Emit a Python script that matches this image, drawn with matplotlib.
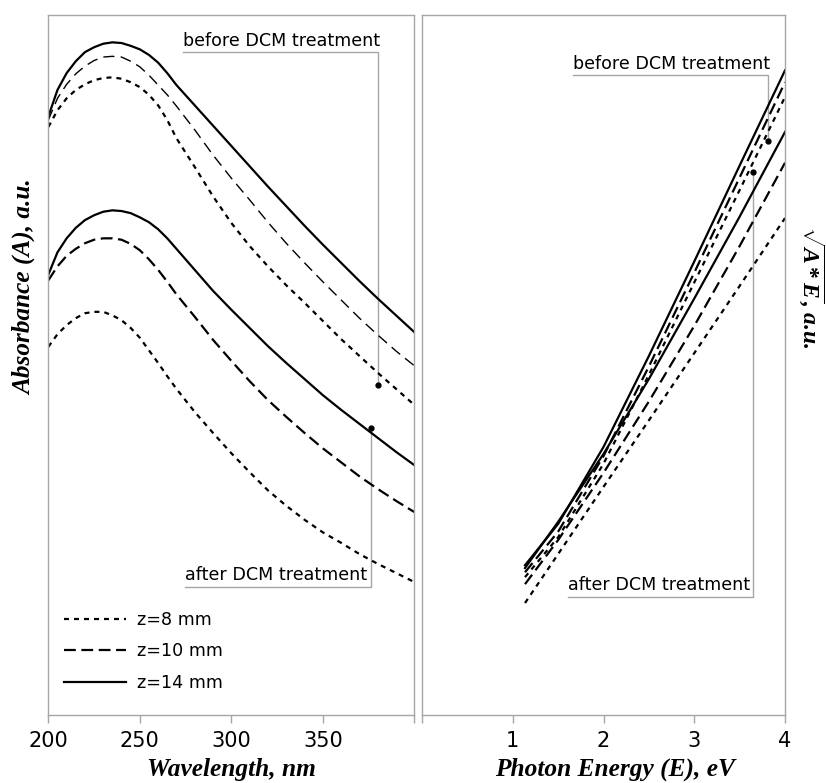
import matplotlib
matplotlib.use("Agg")
import matplotlib.pyplot as plt
from matplotlib.lines import Line2D

plt.rcParams['lines.scale_dashes'] = False
plt.rcParams['mathtext.fontset'] = 'custom'
plt.rcParams['mathtext.rm'] = 'Liberation Serif:bold'
plt.rcParams['mathtext.it'] = 'Liberation Serif:bold:italic'

# ---------------- data: left panel (absorbance vs wavelength) ----------------
wavelength = [200, 205, 210, 215, 220, 225, 230, 235, 240, 245, 250, 255, 260, 265,
              270, 280, 290, 300, 310, 320, 330, 340, 350, 360, 370, 380, 390, 400]
before_z14 = [85.5, 89.3, 91.7, 93.4, 94.7, 95.4, 95.9, 96.1, 96.0, 95.6, 95.1, 94.3, 93.2, 91.7,
              90.0, 87.1, 84.2, 81.3, 78.4, 75.5, 72.7, 69.9, 67.2, 64.6, 62.0, 59.5, 57.1, 54.7]
before_z10 = [85.0, 88.1, 90.1, 91.6, 92.7, 93.5, 94.0, 94.1, 94.0, 93.4, 92.6, 91.4, 90.0, 88.6,
              87.0, 83.6, 80.0, 76.7, 73.6, 70.4, 67.4, 64.6, 61.9, 59.3, 56.7, 54.3, 52.0, 49.9]
before_z8 = [84.0, 86.4, 88.1, 89.3, 90.1, 90.7, 91.0, 91.1, 90.9, 90.4, 89.7, 88.6, 87.1, 85.0,
             82.4, 78.3, 74.1, 70.3, 67.0, 64.1, 61.4, 58.9, 56.3, 53.7, 51.3, 48.9, 46.6, 44.3]
after_z14 = [62.9, 66.1, 68.1, 69.6, 70.7, 71.4, 71.9, 72.1, 72.0, 71.7, 71.1, 70.4, 69.4, 68.1,
             66.6, 63.6, 60.6, 57.9, 55.3, 52.7, 50.3, 48.0, 45.7, 43.6, 41.6, 39.6, 37.6, 35.7]
after_z10 = [62.1, 64.1, 65.6, 66.6, 67.4, 67.9, 68.1, 68.1, 67.9, 67.3, 66.4, 65.1, 63.6, 61.9,
             60.1, 56.9, 53.6, 50.6, 47.7, 45.0, 42.6, 40.3, 38.1, 36.1, 34.1, 32.3, 30.6, 29.0]
after_z8 = [52.6, 54.4, 55.7, 56.7, 57.4, 57.6, 57.6, 57.1, 56.4, 55.3, 53.9, 52.1, 50.3, 48.4,
            46.6, 43.3, 40.3, 37.4, 34.7, 32.1, 29.9, 27.9, 26.1, 24.6, 23.0, 21.6, 20.3, 19.0]

# ---------------- data: right panel (sqrt(A*E) vs photon energy) ----------------
energy = [1.135, 1.5, 2.0, 2.5, 3.0, 3.5, 4.0]
tauc_before_z14 = [21.4, 27.3, 38.3, 51.3, 64.8, 78.5, 92.1]
tauc_before_z10 = [20.4, 26.2, 37.0, 49.8, 63.2, 76.8, 90.4]
tauc_before_z8 = [19.7, 25.4, 35.9, 48.6, 61.8, 75.0, 88.3]
tauc_after_z14 = [21.0, 27.6, 37.3, 48.0, 59.5, 71.2, 83.3]
tauc_after_z10 = [18.7, 25.0, 34.6, 44.8, 55.6, 67.0, 78.9]
tauc_after_z8 = [16.0, 23.0, 32.6, 42.1, 51.7, 61.3, 71.0]

legend_labels = ["z=8 mm", "z=10 mm", "z=14 mm"]
left_ticks = [200, 250, 300, 350, 400]
left_ticklabels = ["200", "250", "300", "350", ""]
right_ticks = [0, 1, 2, 3, 4]
right_ticklabels = ["", "1", "2", "3", "4"]

# annotation callouts: (text, text/underline start x, underline y, corner x, dot y)
left_callouts = [("before DCM treatment", 273.7, 94.7, 380.2, 47.1),
                 ("after DCM treatment", 274.6, 18.3, 376.3, 41.0)]
right_callouts = [("before DCM treatment", 1.66, 91.4, 3.81, 82.0),
                  ("after DCM treatment", 1.605, 16.9, 3.645, 77.6)]

# ---------------- styles ----------------
SHORT = (0, (3.6, 3.6))
LONG = (0, (8.5, 4.0))
THINLONG = (0, (8.0, 4.5))
LW = 1.6
GRAY = '#a6a6a6'
TXT_FONT = 'DejaVu Sans'
LAB_FONT = 'Liberation Serif'
ANN_SIZE = 12.6

fig = plt.figure(figsize=(8.26, 7.83), dpi=100)
axL = fig.add_axes([0.0585, 0.0868, 0.4431, 0.894])
axR = fig.add_axes([0.5109, 0.0868, 0.4395, 0.894])

axL.plot(wavelength, before_z14, color='black', lw=LW, linestyle='-')
axL.plot(wavelength, before_z10, color='black', lw=1.0, linestyle=THINLONG)
axL.plot(wavelength, before_z8, color='black', lw=LW, linestyle=SHORT)
axL.plot(wavelength, after_z14, color='black', lw=LW, linestyle='-')
axL.plot(wavelength, after_z10, color='black', lw=LW, linestyle=LONG)
axL.plot(wavelength, after_z8, color='black', lw=LW, linestyle=SHORT)

axR.plot(energy, tauc_before_z14, color='black', lw=LW, linestyle='-')
axR.plot(energy, tauc_before_z10, color='black', lw=LW, linestyle=LONG)
axR.plot(energy, tauc_before_z8, color='black', lw=LW, linestyle=SHORT)
axR.plot(energy, tauc_after_z14, color='black', lw=LW, linestyle='-')
axR.plot(energy, tauc_after_z10, color='black', lw=LW, linestyle=LONG)
axR.plot(energy, tauc_after_z8, color='black', lw=LW, linestyle=SHORT)

axL.set_xlim(200, 400)
axR.set_xlim(0, 4)
for ax in (axL, axR):
    ax.set_ylim(0, 100)
    ax.set_yticks([])
    for s in ax.spines.values():
        s.set_color(GRAY)
        s.set_linewidth(1.0)
    ax.tick_params(axis='x', direction='out', length=5.5, width=1.0, color=GRAY,
                   pad=6, labelsize=15)

axL.set_xticks(left_ticks)
axL.set_xticklabels(left_ticklabels, family=TXT_FONT)
axR.set_xticks(right_ticks)
axR.set_xticklabels(right_ticklabels, family=TXT_FONT)


def callout(ax, txt, x0, yl, x1, yd):
    ax.plot([x0, x1, x1], [yl, yl, yd], color=GRAY, lw=1.0, zorder=1)
    ax.plot([x1], [yd], 'o', color='black', ms=3.5, zorder=3)
    ax.text(x0, yl + 0.35, txt, family=TXT_FONT, fontsize=ANN_SIZE,
            ha='left', va='bottom', color='black')


for c in left_callouts:
    callout(axL, *c)
for c in right_callouts:
    callout(axR, *c)

handles = [Line2D([], [], color='black', lw=LW, linestyle=SHORT),
           Line2D([], [], color='black', lw=LW, linestyle=LONG),
           Line2D([], [], color='black', lw=LW, linestyle='-')]
axL.legend(handles, legend_labels, loc='upper left', bbox_to_anchor=(0.044, 0.149),
           frameon=False, handlelength=3.5, handletextpad=0.63, labelspacing=0.78,
           borderpad=0, borderaxespad=0, prop={'family': TXT_FONT, 'size': ANN_SIZE})

axL.set_xlabel("Wavelength, nm", family=LAB_FONT, weight='bold', style='italic',
               fontsize=18.3, labelpad=5)
axR.set_xlabel("Photon Energy (E), eV", family=LAB_FONT, weight='bold', style='italic',
               fontsize=18.3, labelpad=5, x=0.532)

fig.text(25 / 826, 1 - 287 / 783, "Absorbance (A), a.u.", family=LAB_FONT,
         weight='bold', style='italic', fontsize=18.2, rotation=90,
         ha='center', va='center')
fig.text(812 / 826, 1 - 287 / 783, r"$\sqrt{A*E}$, a.u.", family=LAB_FONT,
         weight='bold', style='italic', fontsize=17, rotation=270,
         ha='center', va='center')

fig.savefig("out.png", dpi=100)
